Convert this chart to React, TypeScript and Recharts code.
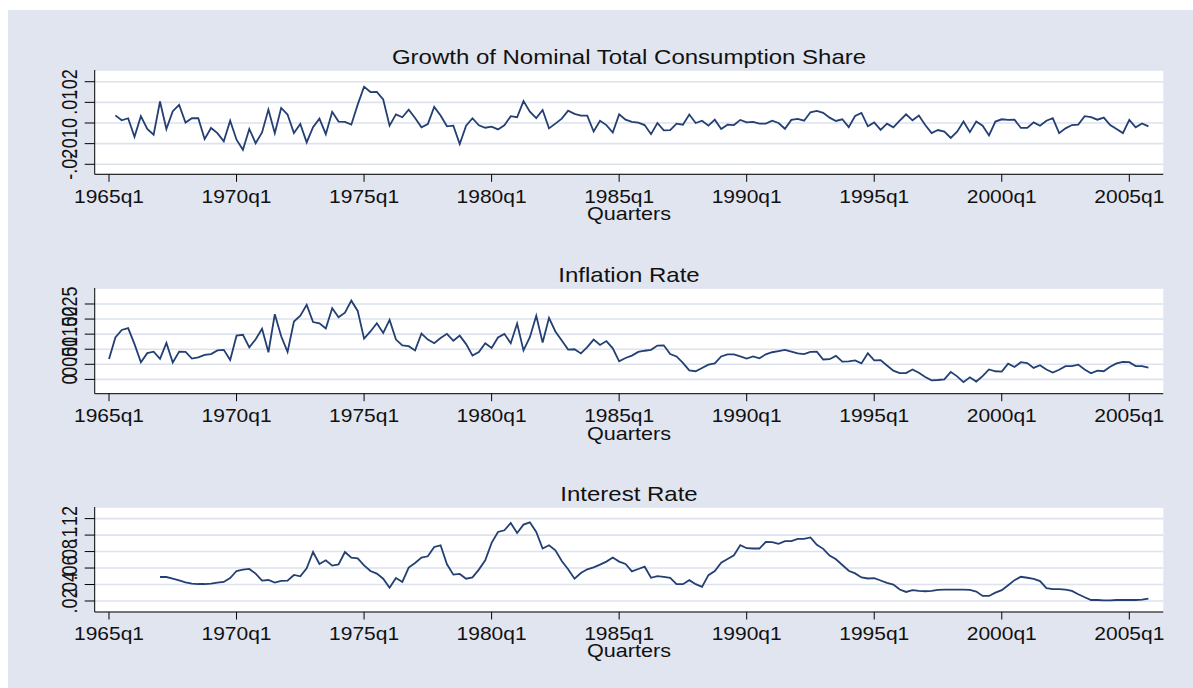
import { LineChart, Line, XAxis, YAxis, CartesianGrid } from "recharts";

// quarter index 0 = 1965q1
const tickQuarters = [0, 20, 40, 60, 80, 100, 120, 140, 160];
const tickLabels = ["1965q1", "1970q1", "1975q1", "1980q1", "1985q1", "1990q1", "1995q1", "2000q1", "2005q1"];

const consumptionStart = 1; // 1965q2
const consumptionGrowth = [
  0.0037, 0.0013, 0.0023, -0.0067, 0.0033, -0.0029, -0.0057, 0.0104, -0.0029, 0.0057,
  0.0088, 0.0002, 0.0023, 0.0023, -0.0078, -0.0024, -0.0049, -0.0089, 0.0011, -0.0081,
  -0.013, -0.0029, -0.0098, -0.0046, 0.0065, -0.0049, 0.0073, 0.0041, -0.0049, -0.0005,
  -0.0094, -0.002, 0.0021, -0.0054, 0.0054, 0.0007, 0.0005, -0.0008, 0.0089, 0.0176,
  0.015, 0.0151, 0.0114, -0.0013, 0.0042, 0.0028, 0.0065, 0.0024, -0.0021, -0.0005,
  0.0078, 0.0036, -0.0016, -0.0013, -0.0102, -0.0013, 0.0023, -0.0011, -0.0023, -0.0018,
  -0.0031, -0.0011, 0.0033, 0.0028, 0.0106, 0.0055, 0.0024, 0.0063, -0.0026, -0.0003,
  0.0021, 0.006, 0.0044, 0.0036, 0.0036, -0.0041, 0.0011, -0.001, -0.0046, 0.0042,
  0.0016, 0.0005, 0.0002, -0.001, -0.0054, 0, -0.0036, -0.0034, -0.0003, -0.0008,
  0.0041, 0, 0.0011, -0.0013, 0.0016, -0.0029, -0.0008, -0.001, 0.0015, 0.0003,
  0.0005, -0.0003, -0.0003, 0.0011, 0, -0.0028, 0.0015, 0.002, 0.0011, 0.0052,
  0.0059, 0.0049, 0.0026, 0.001, 0.0018, -0.002, 0.0034, 0.0049, -0.0016, 0.0003,
  -0.0033, -0.0003, -0.0021, 0.0011, 0.0042, 0.0013, 0.0036, -0.001, -0.0049, -0.0034,
  -0.0042, -0.0072, -0.0042, 0.0007, -0.0044, 0.0007, -0.0013, -0.006, 0.0007, 0.0018,
  0.0015, 0.0016, -0.0024, -0.0024, 0.0003, -0.0013, 0.0011, 0.0023, -0.0049, -0.0026,
  -0.001, -0.0008, 0.0033, 0.0028, 0.0016, 0.0026, -0.001, -0.0029, -0.0049, 0.0015,
  -0.0021, -0.0002, -0.0016,
];

const inflationStart = 0; // 1965q1
const inflationRate = [
  0.0068, 0.0139, 0.0164, 0.017, 0.0117, 0.0057, 0.0087, 0.0092, 0.0068, 0.0121,
  0.0056, 0.0092, 0.0091, 0.0069, 0.0073, 0.0081, 0.0084, 0.0096, 0.0098, 0.0064,
  0.0145, 0.0148, 0.0106, 0.0133, 0.0168, 0.009, 0.0216, 0.0143, 0.0091, 0.0192,
  0.0211, 0.0247, 0.019, 0.0186, 0.0169, 0.0236, 0.0206, 0.0221, 0.0261, 0.0227,
  0.0135, 0.0159, 0.0186, 0.0154, 0.0197, 0.0132, 0.0113, 0.011, 0.0096, 0.0152,
  0.0132, 0.012, 0.0137, 0.0151, 0.0128, 0.0145, 0.0117, 0.0079, 0.0091, 0.012,
  0.0104, 0.0139, 0.0151, 0.012, 0.0185, 0.0096, 0.014, 0.0211, 0.0122, 0.0204,
  0.0159, 0.0129, 0.0099, 0.01, 0.0086, 0.0107, 0.0132, 0.0114, 0.0127, 0.0103,
  0.006, 0.0071, 0.0079, 0.0091, 0.0095, 0.0098, 0.0112, 0.0113, 0.0084, 0.0076,
  0.0055, 0.003, 0.0027, 0.0038, 0.0049, 0.0053, 0.0076, 0.0083, 0.0083, 0.0076,
  0.0069, 0.0076, 0.007, 0.0083, 0.009, 0.0094, 0.0098, 0.0092, 0.0086, 0.0084,
  0.0091, 0.0092, 0.0066, 0.0067, 0.0078, 0.0059, 0.006, 0.0063, 0.0053, 0.0087,
  0.0063, 0.0064, 0.0046, 0.0029, 0.0021, 0.0021, 0.0033, 0.0022, 0.0008, -0.0003,
  -0.0002, 0, 0.0025, 0.001, -0.0009, 0.0007, -0.0007, 0.0011, 0.0033, 0.0027,
  0.0026, 0.0052, 0.0041, 0.0057, 0.0054, 0.0038, 0.0047, 0.0033, 0.0023, 0.0032,
  0.0044, 0.0044, 0.0049, 0.0033, 0.002, 0.0029, 0.0027, 0.0042, 0.0053, 0.0058,
  0.0057, 0.0044, 0.0044, 0.0039,
];

const interestStart = 8; // 1967q1
const interestRate = [
  0.0491, 0.0491,
  0.0471, 0.0451, 0.0427, 0.0411, 0.0406, 0.0406, 0.0411, 0.0423, 0.0431, 0.0479,
  0.0564, 0.058, 0.0589, 0.0532, 0.0447, 0.0455, 0.0423, 0.0443, 0.0447, 0.0516,
  0.05, 0.0597, 0.0795, 0.0649, 0.0694, 0.0629, 0.0645, 0.0795, 0.0726, 0.0718,
  0.0633, 0.0564, 0.0532, 0.0471, 0.0362, 0.0479, 0.0431, 0.0605, 0.0662, 0.0726,
  0.0743, 0.0856, 0.0876, 0.0645, 0.052, 0.0528, 0.0471, 0.0487, 0.0581, 0.0694,
  0.0905, 0.1038, 0.1058, 0.1147, 0.1026, 0.1127, 0.1155, 0.1038, 0.0836, 0.0876,
  0.0815, 0.0686, 0.0585, 0.0471, 0.054, 0.0585, 0.0608, 0.0641, 0.0678, 0.0727,
  0.0678, 0.0649, 0.0559, 0.0588, 0.0616, 0.0482, 0.0502, 0.0494, 0.0482, 0.0404,
  0.0404, 0.0453, 0.0404, 0.0371, 0.0514, 0.0563, 0.0665, 0.071, 0.0755, 0.0878,
  0.0841, 0.0837, 0.0837, 0.0918, 0.0914, 0.0894, 0.0927, 0.0927, 0.0955, 0.0955,
  0.0971, 0.0882, 0.0833, 0.0751, 0.0706, 0.0637, 0.0567, 0.0535, 0.0486, 0.0473,
  0.0478, 0.0449, 0.042, 0.04, 0.0339, 0.031, 0.0331, 0.0322, 0.0318, 0.0322,
  0.0335, 0.0339, 0.0339, 0.0339, 0.0339, 0.0335, 0.0314, 0.0261, 0.0261, 0.0302,
  0.0331, 0.0392, 0.0453, 0.0494, 0.0482, 0.0469, 0.0441, 0.0355, 0.0343, 0.0343,
  0.0339, 0.0322, 0.0282, 0.0245, 0.0212, 0.0212, 0.0208, 0.0208, 0.0212, 0.0212,
  0.0212, 0.0212, 0.0216, 0.0229,
];

const consumptionTicks = [-0.02, -0.01, 0, 0.01, 0.02];
const inflationTicks = [0, 0.005, 0.01, 0.015, 0.02, 0.025];
const interestTicks = [0.02, 0.04, 0.06, 0.08, 0.1, 0.12];

const W = 1185;
const PLOT_LEFT = 86.7;
const PLOT_RIGHT = 1155.3;
const PAD_TOP = 20;
const AXIS_H = 60;
const X_DOMAIN = [-2.24, 165.33];
const FONT = "'Liberation Sans', Arial, sans-serif";
const BG = "#e1e5ef";
const LINE = "#233f73";
const GRID = "#dde2ed";
const SX = 1.2; // the picture is stretched sideways

const stataFmt = (v: number) => (v === 0 ? "0" : String(v).replace("0.", "."));

const panels = [
  { title: "Growth of Nominal Total Consumption Share", data: consumptionGrowth, start: consumptionStart, ticks: consumptionTicks, domain: [-0.02484, 0.02567], top: 60, bottom: 164.3 },
  { title: "Inflation Rate", data: inflationRate, start: inflationStart, ticks: inflationTicks, domain: [-0.00474, 0.0303], top: 278.3, bottom: 384 },
  { title: "Interest Rate", data: interestRate, start: interestStart, ticks: interestTicks, domain: [0.00664, 0.1341], top: 496.7, bottom: 601.7 },
];

function Panel({ p }: { p: (typeof panels)[number] }) {
  const rows = p.data.map((v, i) => ({ q: p.start + i, v }));
  const h = p.bottom - p.top;
  const axisY = PAD_TOP + h;

  const xTick = (props: any) => {
    const i = tickQuarters.indexOf(props.payload.value);
    return (
      <g transform={`translate(${props.x},${axisY + 28.4}) scale(${SX},1)`}>
        <text textAnchor="middle" fontSize={17.5} fontFamily={FONT} fill="#111">
          {tickLabels[i]}
        </text>
      </g>
    );
  };

  const yTick = (props: any) => (
    <g transform={`translate(${PLOT_LEFT - 17.7},${props.y}) scale(${SX},1) rotate(-90)`}>
      <text textAnchor="middle" fontSize={18} fontFamily={FONT} fill="#111">
        {stataFmt(props.payload.value)}
      </text>
    </g>
  );

  return (
    <div style={{ position: "absolute", left: 0, top: p.top - PAD_TOP }}>
      <LineChart
        width={W}
        height={PAD_TOP + h + AXIS_H}
        data={rows}
        margin={{ top: PAD_TOP, right: W - PLOT_RIGHT, bottom: 0, left: 0 }}
      >
        <CartesianGrid horizontal vertical={false} fill="#fff" stroke={GRID} strokeWidth={1.6} />
        <XAxis
          dataKey="q"
          type="number"
          domain={X_DOMAIN}
          allowDataOverflow
          ticks={tickQuarters}
          interval={0}
          height={AXIS_H}
          tickSize={7.5}
          tickLine={{ stroke: "#000" }}
          axisLine={{ stroke: "#000" }}
          tick={xTick}
        />
        <YAxis
          type="number"
          domain={p.domain}
          allowDataOverflow
          ticks={p.ticks}
          interval={0}
          width={PLOT_LEFT}
          tickSize={10}
          tickLine={{ stroke: "#000" }}
          axisLine={{ stroke: "#000" }}
          tick={yTick}
        />
        <Line dataKey="v" stroke={LINE} strokeWidth={1.8} dot={false} isAnimationActive={false} />
      </LineChart>
    </div>
  );
}

export default function App() {
  const cx = (PLOT_LEFT + PLOT_RIGHT) / 2;
  return (
    <div style={{ position: "absolute", left: 8, top: 10, width: W, height: 678, background: BG, overflow: "hidden" }}>
      {panels.map((p) => (
        <Panel key={p.title} p={p} />
      ))}
      <svg width={W} height={678} style={{ position: "absolute", left: 0, top: 0, pointerEvents: "none" }}>
        {panels.map((p) => (
          <g key={p.title}>
            <g transform={`translate(${cx},${p.top - 6}) scale(${SX},1)`}>
              <text textAnchor="middle" fontSize={20} fontFamily={FONT} fill="#111">
                {p.title}
              </text>
            </g>
            <g transform={`translate(${cx},${p.bottom + 45.7}) scale(${SX},1)`}>
              <text textAnchor="middle" fontSize={18} fontFamily={FONT} fill="#111">
                Quarters
              </text>
            </g>
          </g>
        ))}
      </svg>
    </div>
  );
}
